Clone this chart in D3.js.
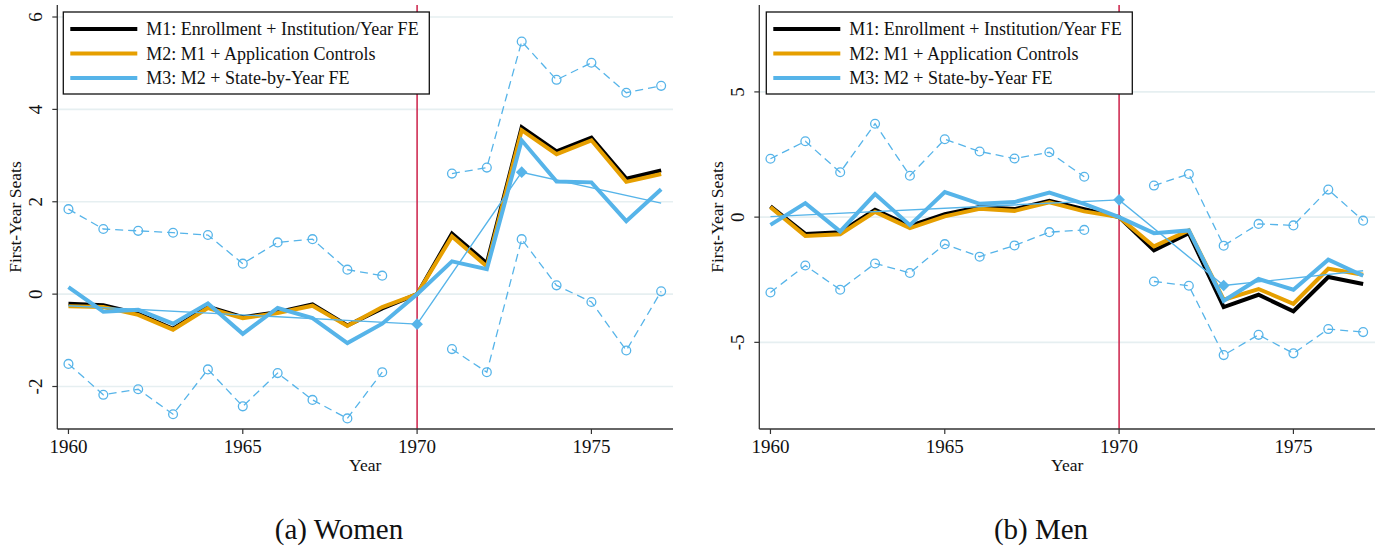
<!DOCTYPE html>
<html>
<head>
<meta charset="utf-8">
<script src="https://cdn.jsdelivr.net/npm/d3@7"></script>
<style>
  html, body { margin: 0; padding: 0; background: #ffffff; }
  svg { display: block; font-family: "Liberation Serif", "Times New Roman", serif; }
</style>
</head>
<body>
<svg id="chart" width="1382" height="548"></svg>
<script>
// Event-study coefficients, by year, relative to 1970
const years = [1960, 1961, 1962, 1963, 1964, 1965, 1966, 1967, 1968, 1969,
               1970, 1971, 1972, 1973, 1974, 1975, 1976, 1977];

// (a) Women
const womenM1 = [-0.21, -0.24, -0.42, -0.75, -0.27, -0.50, -0.39, -0.22, -0.68, -0.31,
                 0, 1.31, 0.67, 3.61, 3.09, 3.39, 2.50, 2.68];
const womenM2 = [-0.26, -0.28, -0.45, -0.77, -0.30, -0.52, -0.41, -0.25, -0.69, -0.28,
                 0, 1.25, 0.60, 3.55, 3.03, 3.33, 2.43, 2.60];
const womenM3 = [0.15, -0.38, -0.34, -0.64, -0.20, -0.86, -0.30, -0.52, -1.06, -0.64,
                 0, 0.71, 0.54, 3.33, 2.44, 2.42, 1.58, 2.27];
const womenUpper = [1.84, 1.41, 1.37, 1.33, 1.28, 0.66, 1.12, 1.19, 0.53, 0.40,
                    null, 2.61, 2.74, 5.47, 4.64, 5.01, 4.36, 4.51];
const womenLower = [-1.51, -2.18, -2.06, -2.60, -1.63, -2.43, -1.71, -2.29, -2.69, -1.69,
                    null, -1.19, -1.69, 1.19, 0.19, -0.17, -1.22, 0.06];
const womenTrendYears = [1960, 1970, 1973, 1977];
const womenTrend = [-0.25, -0.65, 2.64, 1.97];

// (b) Men
const menM1 = [0.43, -0.67, -0.60, 0.29, -0.35, 0.12, 0.40, 0.32, 0.65, 0.32,
               0, -1.33, -0.64, -3.59, -3.10, -3.76, -2.39, -2.67];
const menM2 = [0.40, -0.75, -0.68, 0.21, -0.44, 0.03, 0.33, 0.25, 0.59, 0.23,
               0, -1.17, -0.53, -3.30, -2.87, -3.46, -2.06, -2.30];
const menM3 = [-0.31, 0.56, -0.57, 0.92, -0.32, 1.00, 0.53, 0.60, 0.98, 0.53,
               0, -0.64, -0.53, -3.34, -2.47, -2.90, -1.70, -2.34];
const menUpper = [2.33, 3.03, 1.79, 3.73, 1.65, 3.11, 2.62, 2.34, 2.59, 1.61,
                  null, 1.26, 1.72, -1.14, -0.27, -0.33, 1.10, -0.14];
const menLower = [-3.01, -1.93, -2.90, -1.85, -2.23, -1.08, -1.58, -1.13, -0.60, -0.51,
                  null, -2.57, -2.74, -5.51, -4.70, -5.44, -4.47, -4.59];
const menTrendYears = [1960, 1970, 1973, 1977];
const menTrend = [0.02, 0.69, -2.73, -2.14];

// Markers on the fitted trend
const diamondYears = [1970, 1973];

// Axis ticks
const xTicks = [1960, 1965, 1970, 1975];
const womenYTicks = [-2, 0, 2, 4, 6];
const menYTicks = [-5, 0, 5];
const eventYear = 1970;

const seriesNames = [
  "M1: Enrollment + Institution/Year FE",
  "M2: M1 + Application Controls",
  "M3: M2 + State-by-Year FE"
];
const seriesColors = ["#000000", "#E69F00", "#56B4E9"];

const svg = d3.select("#chart");

function drawPanel(opt) {
  const W = 615.7, H = 424;
  const g = svg.append("g").attr("transform", `translate(${opt.left},${opt.top})`);
  const x = d3.scaleLinear().domain([1959.68, 1977.34]).range([0, W]);
  const y = d3.scaleLinear().domain(opt.yDomain).range([H, 0]);

  // horizontal grid
  g.selectAll("line.grid").data(opt.yTicks).join("line")
    .attr("class", "grid")
    .attr("x1", 0).attr("x2", W)
    .attr("y1", d => y(d)).attr("y2", d => y(d))
    .attr("stroke", "#e6eff1").attr("stroke-width", 1.6);

  // event-year reference line
  g.append("line")
    .attr("x1", x(eventYear)).attr("x2", x(eventYear))
    .attr("y1", 0).attr("y2", H)
    .attr("stroke", "#cc1f48").attr("stroke-width", 1.5);

  const rows = years.map((yr, i) => ({ yr, m1: opt.m1[i], m2: opt.m2[i], m3: opt.m3[i], hi: opt.upper[i], lo: opt.lower[i] }));

  // confidence bounds: dashed with hollow circles
  ["hi", "lo"].forEach(key => {
    const ln = d3.line().defined(d => d[key] != null).x(d => x(d.yr)).y(d => y(d[key]));
    g.append("path").datum(rows).attr("d", ln)
      .attr("fill", "none").attr("stroke", seriesColors[2])
      .attr("stroke-width", 1.3).attr("stroke-dasharray", "8,5");
    g.selectAll(null).data(rows.filter(d => d[key] != null)).join("circle")
      .attr("cx", d => x(d.yr)).attr("cy", d => y(d[key])).attr("r", 4.4)
      .attr("fill", "none").attr("stroke", seriesColors[2]).attr("stroke-width", 1.3);
  });

  // model estimates
  ["m1", "m2", "m3"].forEach((key, k) => {
    const ln = d3.line().x(d => x(d.yr)).y(d => y(d[key]));
    g.append("path").datum(rows).attr("d", ln)
      .attr("fill", "none").attr("stroke", seriesColors[k])
      .attr("stroke-width", 4).attr("stroke-linejoin", "miter");
  });

  // fitted trend with diamonds
  const trend = opt.trendYears.map((yr, i) => ({ yr, v: opt.trend[i] }));
  g.append("path").datum(trend)
    .attr("d", d3.line().x(d => x(d.yr)).y(d => y(d.v)))
    .attr("fill", "none").attr("stroke", seriesColors[2]).attr("stroke-width", 1.4);
  const sq = d3.symbol().type(d3.symbolSquare).size(68);
  g.selectAll(null).data(trend.filter(d => diamondYears.includes(d.yr))).join("path")
    .attr("d", sq)
    .attr("transform", d => `translate(${x(d.yr)},${y(d.v)}) rotate(45)`)
    .attr("fill", seriesColors[2]);

  // axes
  const axisColor = "#333333";
  g.append("line").attr("x1", 0).attr("x2", 0).attr("y1", 0).attr("y2", H)
    .attr("stroke", axisColor).attr("stroke-width", 1.3);
  g.append("line").attr("x1", 0).attr("x2", W).attr("y1", H).attr("y2", H)
    .attr("stroke", axisColor).attr("stroke-width", 1.3);

  g.selectAll(null).data(opt.yTicks).join("line")
    .attr("x1", -5).attr("x2", 0).attr("y1", d => y(d)).attr("y2", d => y(d))
    .attr("stroke", axisColor).attr("stroke-width", 1.2);
  g.selectAll(null).data(opt.yTicks).join("text")
    .attr("transform", d => `translate(-15,${y(d)}) rotate(-90)`)
    .attr("text-anchor", "middle").attr("font-size", 19).attr("fill", "#111")
    .text(d => d);

  g.selectAll(null).data(xTicks).join("line")
    .attr("x1", d => x(d)).attr("x2", d => x(d)).attr("y1", H).attr("y2", H + 5)
    .attr("stroke", axisColor).attr("stroke-width", 1.2);
  g.selectAll(null).data(xTicks).join("text")
    .attr("x", d => x(d)).attr("y", H + 24)
    .attr("text-anchor", "middle").attr("font-size", 19).attr("fill", "#111")
    .text(d => d);

  g.append("text").attr("x", W / 2).attr("y", H + 42)
    .attr("text-anchor", "middle").attr("font-size", 17.5).attr("fill", "#111")
    .text("Year");
  g.append("text")
    .attr("transform", `translate(${opt.titleX},${H / 2}) rotate(-90)`)
    .attr("text-anchor", "middle").attr("font-size", 17.5).attr("fill", "#111")
    .text("First-Year Seats");

  // legend
  const lg = g.append("g").attr("transform", `translate(${opt.legendX},7)`);
  lg.append("rect").attr("x", 0).attr("y", 0).attr("width", 366).attr("height", 82)
    .attr("fill", "#ffffff").attr("stroke", "#111").attr("stroke-width", 1.3);
  seriesNames.forEach((name, k) => {
    const yy = 17 + k * 24.5;
    lg.append("line").attr("x1", 7).attr("x2", 74).attr("y1", yy).attr("y2", yy)
      .attr("stroke", seriesColors[k]).attr("stroke-width", 4);
    lg.append("text").attr("x", 83).attr("y", yy + 6)
      .attr("font-size", 18).attr("fill", "#111").text(name);
  });

  // caption
  svg.append("text").attr("x", opt.captionX).attr("y", 539)
    .attr("text-anchor", "middle").attr("font-size", 29).attr("fill", "#111")
    .text(opt.caption);
}

drawPanel({
  left: 57.3, top: 5, yDomain: [-2.92, 6.26], yTicks: womenYTicks,
  m1: womenM1, m2: womenM2, m3: womenM3, upper: womenUpper, lower: womenLower,
  trendYears: womenTrendYears, trend: womenTrend,
  legendX: 6, titleX: -36, captionX: 339, caption: "(a) Women"
});
drawPanel({
  left: 759.3, top: 5, yDomain: [-8.46, 8.47], yTicks: menYTicks,
  m1: menM1, m2: menM2, m3: menM3, upper: menUpper, lower: menLower,
  trendYears: menTrendYears, trend: menTrend,
  legendX: 7, titleX: -36, captionX: 1041, caption: "(b) Men"
});
</script>
</body>
</html>
